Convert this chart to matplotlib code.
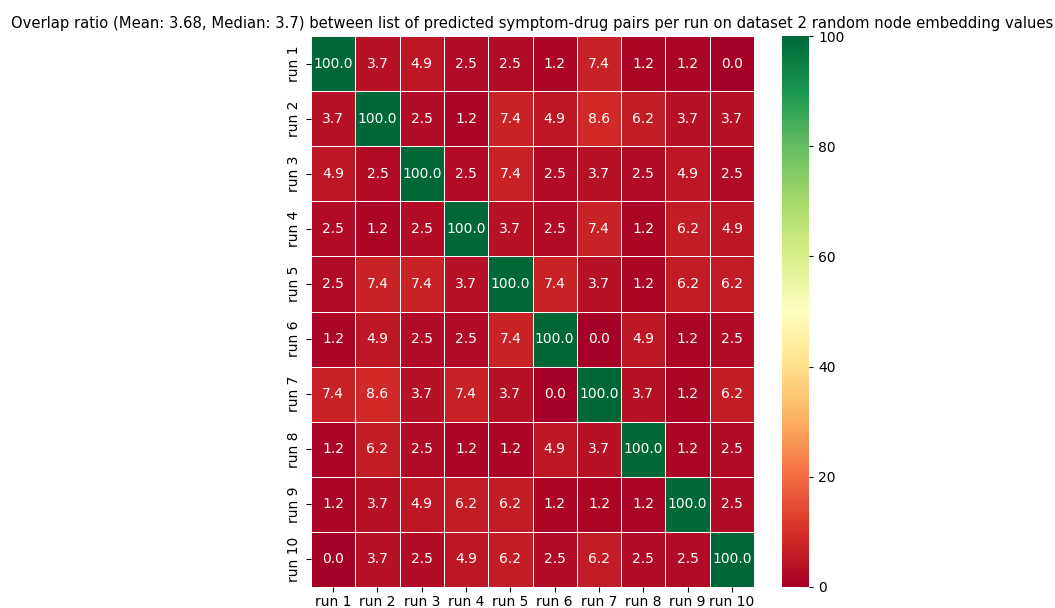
import matplotlib
matplotlib.use("Agg")
import matplotlib.pyplot as plt
import numpy as np
import seaborn as sns

runs = [f"run {i}" for i in range(1, 11)]

row_1 = [100.0, 3.7, 4.9, 2.5, 2.5, 1.2, 7.4, 1.2, 1.2, 0.0]
row_2 = [3.7, 100.0, 2.5, 1.2, 7.4, 4.9, 8.6, 6.2, 3.7, 3.7]
row_3 = [4.9, 2.5, 100.0, 2.5, 7.4, 2.5, 3.7, 2.5, 4.9, 2.5]
row_4 = [2.5, 1.2, 2.5, 100.0, 3.7, 2.5, 7.4, 1.2, 6.2, 4.9]
row_5 = [2.5, 7.4, 7.4, 3.7, 100.0, 7.4, 3.7, 1.2, 6.2, 6.2]
row_6 = [1.2, 4.9, 2.5, 2.5, 7.4, 100.0, 0.0, 4.9, 1.2, 2.5]
row_7 = [7.4, 8.6, 3.7, 7.4, 3.7, 0.0, 100.0, 3.7, 1.2, 6.2]
row_8 = [1.2, 6.2, 2.5, 1.2, 1.2, 4.9, 3.7, 100.0, 1.2, 2.5]
row_9 = [1.2, 3.7, 4.9, 6.2, 6.2, 1.2, 1.2, 1.2, 100.0, 2.5]
row_10 = [0.0, 3.7, 2.5, 4.9, 6.2, 2.5, 6.2, 2.5, 2.5, 100.0]

matrix = np.array([row_1, row_2, row_3, row_4, row_5,
                   row_6, row_7, row_8, row_9, row_10])

W, H = 1055, 608
fig = plt.figure(figsize=(W / 100, H / 100), dpi=100)
ax = fig.add_axes([311 / W, (H - 587) / H, (754 - 311) / W, (587 - 36) / H])
cax = fig.add_axes([782 / W, (H - 587) / H, (809 - 782) / W, (587 - 36) / H])

sns.heatmap(matrix, ax=ax, cbar_ax=cax, cmap="RdYlGn", vmin=0, vmax=100,
            annot=True, fmt=".1f", linewidths=0.5, linecolor="white",
            xticklabels=runs, yticklabels=runs)
ax.set_title("Overlap ratio (Mean: 3.68, Median: 3.7) between list of predicted "
             "symptom-drug pairs per run on dataset 2 random node embedding values",
             fontsize=10.6)
ax.tick_params(axis="x", pad=2.5)
cax.tick_params(length=3)

fig.savefig("out.png", dpi=100)
